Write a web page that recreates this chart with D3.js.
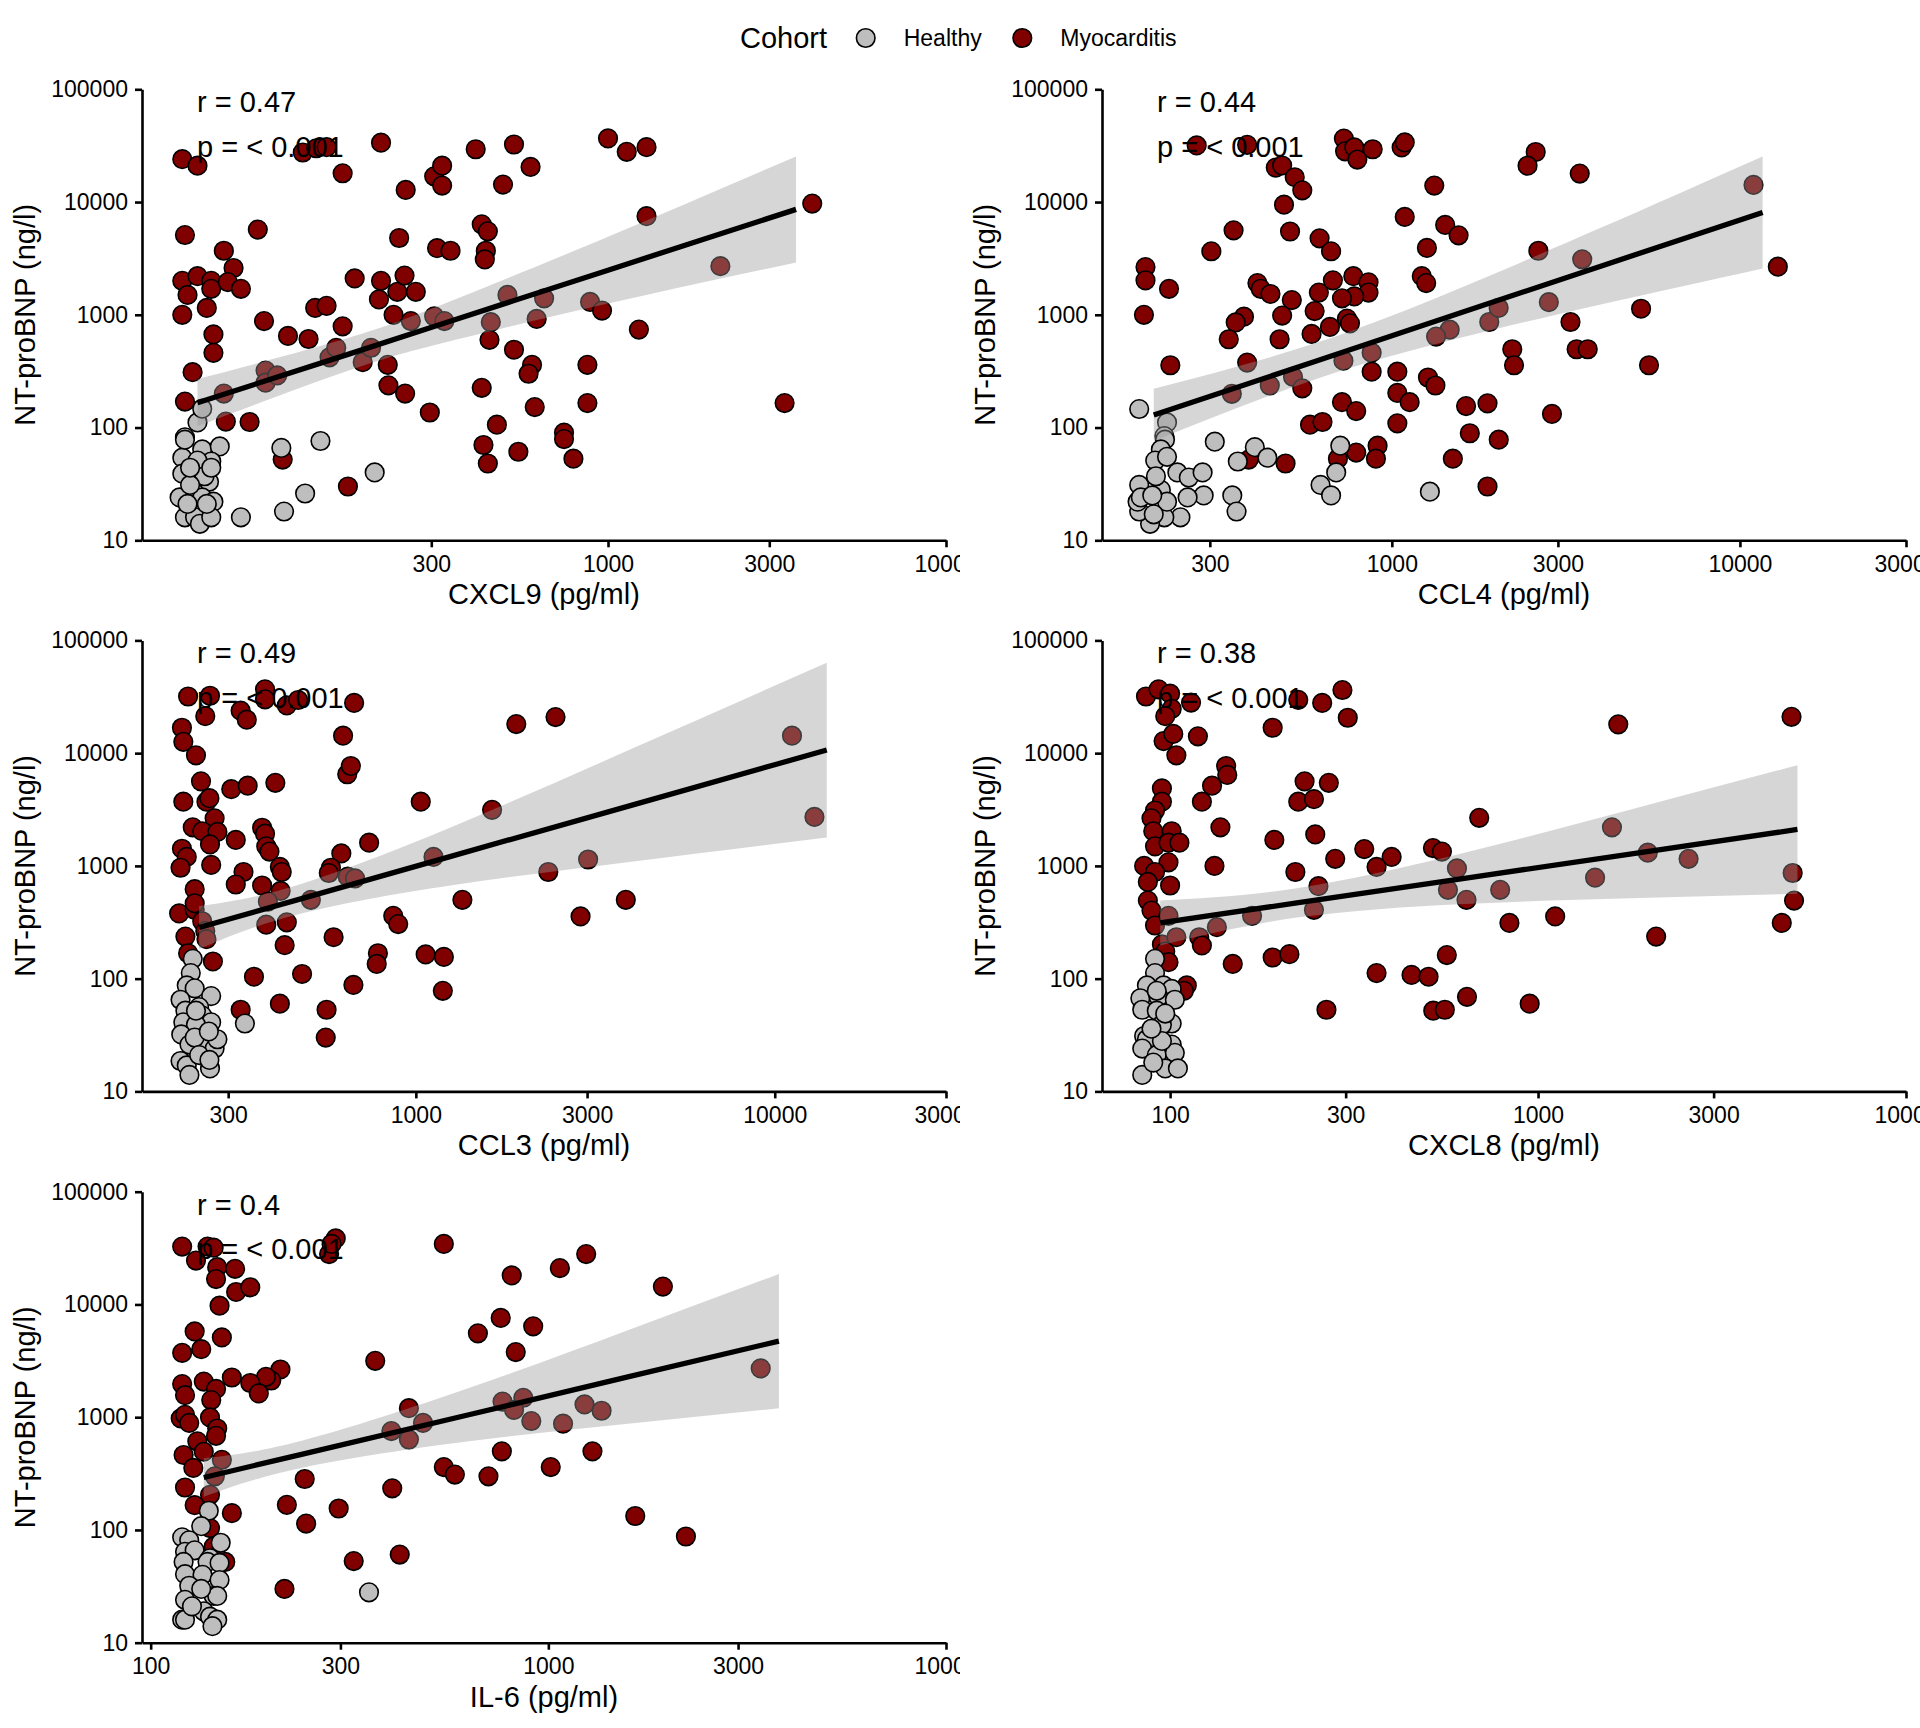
<!DOCTYPE html>
<html>
<head>
<meta charset="utf-8">
<script src="https://cdn.jsdelivr.net/npm/d3@7"></script>
<style>
  body { margin: 0; background: #ffffff; }
  text { font-family: "Liberation Sans", Arial, Helvetica, sans-serif; }
</style>
</head>
<body>
<div id="chart"></div>
<script>

//Cohort labels
let cohorts = ["Healthy", "Myocarditis"];

//Shared y axis (NT-proBNP, ng/l)
let yDomain = [10, 100000];
let yTicks = [10, 100, 1000, 10000, 100000];

//CXCL9 panel: [x pg/ml, NT-proBNP ng/l]
let cxcl9Myo = [[55,24000],[61,21000],[56,5100],[55,2000],[61,2200],[57,1500],[55,1000],[65,1150],[67,2000],[67,1700],[73,3700],[78,2600],[75,1950],[82,1700],[68,670],[68,460],[59,310],[56,170],[73,200],[74,113],[87,112],[92,5700],[96,880],[113,650],[130,610],[97,320],[97,250],[105,290],[109,52],[125,27500],[137,30000],[147,30700],[164,18000],[213,33600],[136,1150],[147,1200],[164,790],[150,420],[157,510],[170,30],[178,2100],[188,380],[199,510],[213,2000],[210,1370],[223,360],[224,237],[238,1600],[250,2230],[270,1600],[232,1000],[251,200],[252,12800],[241,4800],[261,880],[297,136],[306,16900],[323,21000],[323,14000],[312,3900],[306,970],[328,880],[342,3700],[406,29400],[527,32400],[489,14300],[590,20500],[1000,36700],[1136,27900],[1300,30700],[1300,7500],[4020,9700],[423,6350],[441,5500],[435,3700],[432,3100],[504,1500],[647,1400],[615,920],[450,860],[885,1300],[960,1090],[1234,740],[2150,2700],[446,600],[527,490],[596,360],[582,300],[869,360],[423,225],[607,152],[869,165],[3330,165],[469,106],[741,90],[741,79],[428,70],[441,48],[543,61],[790,53]];
let cxcl9Healthy = [[56,82],[55,54],[63,64],[71,68],[67,50],[55,39],[63,41],[66,33],[54,24],[60,24],[63,24],[68,22],[56,16],[60,16],[62,14],[67,16],[82,16],[110,18],[127,26],[204,40],[141,76],[108,66],[61,111],[63,147],[56,78],[61,51],[64,37],[58,31],[65,21],[57,21],[58,44],[67,44]];
//fit: [x, lower, fit, upper]
let cxcl9Fit = [[61,103,166,269],[171,321,448,625],[343,586,881,1324],[1000,1259,2489,4920],[3600,2917,8610,25400]];
let cxcl9Domain = [41.8, 10000];
let cxcl9Ticks = [300, 1000, 3000, 10000];

//CCL4 panel
let ccl4Myo = [[275,31800],[384,32200],[728,36600],[734,28200],[780,30500],[796,23800],[881,29400],[1067,30500],[1089,33800],[464,20200],[484,21100],[526,16600],[553,12700],[490,9470],[1324,14000],[1089,7380],[2590,27800],[2454,21000],[3466,17900],[1423,6270],[1555,5070],[1261,3920],[2636,3700],[351,5610],[303,3660],[510,5480],[620,4770],[669,3660],[196,2650],[196,2020],[194,1000],[229,1700],[231,357],[411,1910],[420,1700],[448,1530],[516,1350],[617,1574],[677,2020],[775,2200],[857,1940],[857,1574],[780,1455],[719,1400],[1219,2200],[1255,1910],[600,1080],[484,984],[376,962],[356,855],[340,607],[476,607],[588,676],[664,780],[743,925],[758,841],[1466,738],[1340,641],[1905,863],[2027,1151],[2825,1294],[3523,3104],[10940,14200],[12850,2670],[5200,1132],[3260,863],[2218,495],[2244,357],[3395,495],[3654,495],[5480,357],[384,377],[347,199],[446,236],[520,282],[553,223],[726,392],[875,461],[875,313],[1037,313],[1270,278],[1334,236],[1037,203],[1125,168],[719,168],[790,140],[1634,155],[1883,164],[2884,132],[582,106],[632,112],[1037,109],[1675,89],[2028,78],[910,69],[790,60],[900,53],[700,53],[1497,53],[495,48],[388,52],[1883,30]];
let ccl4Healthy = [[188,146],[226,111],[222,84],[223,78],[217,64],[209,51],[226,55],[310,75],[361,50],[404,67],[439,54],[711,69],[692,40],[624,31],[669,25],[1286,27],[348,25],[358,18],[242,40],[261,36],[286,40],[288,25],[259,24],[247,16],[222,16],[202,14],[188,18],[186,22],[188,31],[190,24],[217,28],[226,22],[205,25],[210,37],[207,17]];
let ccl4Fit = [[207,76,129,221],[601,267,386,558],[1585,628,1047,1746],[3981,1233,2698,5902],[11620,2576,8090,25410]];
let ccl4Domain = [147, 30000];
let ccl4Ticks = [300, 1000, 3000, 10000, 30000];

//CCL3 panel
let ccl3Myo = [[232,31800],[267,32300],[259,21300],[223,16800],[225,12600],[244,9570],[325,23800],[338,19800],[380,36800],[380,30000],[437,26500],[470,29600],[673,27900],[627,14300],[644,6500],[659,7690],[1905,18100],[2450,20900],[252,5620],[225,3710],[261,3710],[266,3990],[306,4790],[340,5150],[406,5460],[275,2640],[239,2200],[254,2030],[280,2000],[373,2180],[380,1930],[315,1700],[267,1550],[223,1420],[383,1490],[391,1340],[230,1200],[221,963],[269,1020],[418,980],[423,883],[331,883],[315,684],[373,670],[242,622],[219,379],[242,408],[228,236],[232,168],[272,142],[431,198],[437,316],[383,301],[354,104],[482,110],[325,53],[418,60],[564,53],[561,30],[590,233],[670,88],[784,168],[778,135],[865,361],[893,305],[1065,164],[1197,156],[1189,78],[1348,500],[2877,356],[3846,500],[741,1607],[1032,3710],[620,1291],[580,963],[572,865],[646,803],[677,775],[510,500],[420,600],[387,483],[1120,1200],[1631,3140],[2339,883],[3020,1140],[11170,14300],[12900,2720],[242,466],[254,323],[259,264],[261,224]];
let ccl3Healthy = [[239,150],[236,112],[230,87],[242,82],[269,70],[221,65],[228,52],[249,56],[254,47],[269,41],[225,41],[244,39],[334,40],[222,32],[234,26],[257,28],[275,24],[242,30],[221,18.6],[230,17],[267,16],[234,14],[249,21],[266,19],[280,29],[244,52],[265,34]];
let ccl3Fit = [[249,183,284,440],[462,367,495,668],[1259,673,1222,2218],[3981,1091,3443,10860],[13960,1790,10660,63500]];
let ccl3Domain = [172.6, 30000];
let ccl3Ticks = [300, 1000, 3000, 10000, 30000];

//CXCL8 panel
let cxcl8Myo = [[86,31800],[93,36800],[100,33700],[101,24700],[97,21300],[114,28100],[96,12800],[102,14800],[119,14100],[104,9570],[142,7690],[143,6410],[130,5150],[122,3710],[95,4870],[95,3710],[91,3100],[89,2640],[90,2030],[101,2030],[91,1490],[99,1607],[106,1607],[137,2200],[85,1000],[99,1076],[91,883],[87,721],[100,670],[132,1000],[87,493],[89,402],[91,296],[95,201],[97,174],[99,140],[104,233],[120,233],[122,197],[148,135],[111,87],[109,78],[190,16800],[192,1700],[190,154],[211,165],[223,29700],[259,27900],[294,36300],[304,20600],[232,5620],[270,5460],[223,3710],[246,3910],[248,1900],[219,883],[281,1156],[337,1410],[400,1200],[364,980],[266,53],[364,112],[453,108],[504,104],[519,52],[558,53],[641,69],[949,60],[565,162],[518,1440],[692,2670],[836,312],[1113,356],[1652,18000],[2094,236],[4885,21000],[4596,312],[4963,493],[548,1340],[602,950],[569,614],[639,500],[789,614],[253,661],[246,408],[167,361],[134,286],[1429,787],[1588,2200],[1987,1310],[2565,1156],[4920,865],[99,361]];
let cxcl8Healthy = [[91,150],[91,112],[86.5,87],[96,87],[101,81],[83,67],[93,69],[103,65],[84,53],[92,52],[101,40],[95,39],[85,31],[86.5,29],[84,24],[101,26],[92,21],[103,22],[97,16],[105,16],[84,14],[90,18],[95,28],[89,36],[97,49],[92,78]];
let cxcl8Fit = [[94,197,312,494],[221,348,470,634],[631,460,776,1309],[1778,516,1274,3141],[5070,566,2105,7816]];
let cxcl8Domain = [65.3, 10000];
let cxcl8Ticks = [100, 300, 1000, 3000, 10000];

//IL-6 panel
let il6Myo = [[120,32600],[139,32600],[144,31900],[130,24500],[147,21400],[163,20700],[146,16800],[164,12900],[178,14200],[149,9750],[281,28000],[292,38500],[285,34400],[546,34400],[1245,28000],[1069,21000],[809,18100],[1941,14400],[129,5760],[134,4010],[120,3720],[151,5100],[759,7600],[916,6400],[665,5550],[828,3780],[367,3160],[212,2650],[201,2115],[195,2280],[178,2010],[187,1625],[160,2250],[120,1965],[136,2070],[146,1780],[122,1567],[142,1420],[141,995],[119,975],[122,1049],[125,889],[147,794],[146,684],[131,611],[121,462],[136,494],[128,355],[122,238],[129,166],[160,141],[220,167],[244,283],[246,114],[297,155],[324,53],[423,60.5],[217,30],[405,234],[546,361],[582,310],[707,299],[764,498],[1014,361],[1291,498],[1654,133],[2218,87.5],[141,104],[144,71],[154,52],[446,1202],[403,753],[446,634],[484,889],[767,1377],[865,1487],[820,1160],[906,925],[1089,877],[1233,1297],[1361,1141],[3420,2710],[151,419],[141,205],[145,299]];
let il6Healthy = [[140,148],[134,108],[120,86],[125,81],[150,77],[122,64],[129,66],[141,56],[139,52],[149,51],[121,52],[122,40.5],[135,40],[149,36],[125,32],[144,26],[147,26],[122,24],[354,28],[136,19],[120,16],[122,16],[141,17],[147,16],[143,14],[127,21],[134,30]];
let il6Fit = [[136,197,292,432],[241,357,471,621],[631,611,1052,1811],[1585,875,2275,5916],[3800,1202,4730,18620]];
let il6Domain = [95.1, 10000];
let il6Ticks = [100, 300, 1000, 3000, 10000];

//Panel titles and correlation labels
let xTitles = ["CXCL9 (pg/ml)", "CCL4 (pg/ml)", "CCL3 (pg/ml)", "CXCL8 (pg/ml)", "IL-6 (pg/ml)"];
let rLabels = ["r = 0.47", "r = 0.44", "r = 0.49", "r = 0.38", "r = 0.4"];
let pLabels = ["p = < 0.001", "p = < 0.001", "p = < 0.001", "p = < 0.001", "p = < 0.001"];

//Width and Height
let width = 1920;
let height = 1728;

//Colors
let colors = ["#bebebe", "#800000"];

//Layout
let colLeft = [142, 1102];
let rowTop = [89.3, 640.4, 1191.7];
let plotW = 804;
let plotH = 451;
let pointR = 9.3;

let panels = [
  {myo: cxcl9Myo, healthy: cxcl9Healthy, fit: cxcl9Fit, domain: cxcl9Domain, ticks: cxcl9Ticks, col: 0, row: 0},
  {myo: ccl4Myo, healthy: ccl4Healthy, fit: ccl4Fit, domain: ccl4Domain, ticks: ccl4Ticks, col: 1, row: 0},
  {myo: ccl3Myo, healthy: ccl3Healthy, fit: ccl3Fit, domain: ccl3Domain, ticks: ccl3Ticks, col: 0, row: 1},
  {myo: cxcl8Myo, healthy: cxcl8Healthy, fit: cxcl8Fit, domain: cxcl8Domain, ticks: cxcl8Ticks, col: 1, row: 1},
  {myo: il6Myo, healthy: il6Healthy, fit: il6Fit, domain: il6Domain, ticks: il6Ticks, col: 0, row: 2}
];

//Create svg
let chart = d3.select("#chart")
  .append("svg")
  .attr("width", width)
  .attr("height", height);

chart.append("rect")
  .attr("width", width)
  .attr("height", height)
  .attr("fill", "white");

//Clip each column cell like the facet grid does
let defs = chart.append("defs");
[0, 1].forEach(function(c) {
  defs.append("clipPath")
    .attr("id", "cell" + c)
    .append("rect")
    .attr("x", c * 960)
    .attr("y", 0)
    .attr("width", 960)
    .attr("height", height);
});

panels.forEach(function(p, i) {

  let left = colLeft[p.col];
  let top = rowTop[p.row];

  let x = d3.scaleLog().domain(p.domain).range([left, left + plotW]);
  let y = d3.scaleLog().domain(yDomain).range([top + plotH, top]);

  let g = chart.append("g")
    .attr("class", "panel p" + i)
    .attr("clip-path", "url(#cell" + p.col + ")");

  //Points: Myocarditis first, Healthy on top
  g.append("g")
    .selectAll("circle")
    .data(p.myo)
    .enter()
    .append("circle")
    .attr("cx", d => x(d[0]))
    .attr("cy", d => y(d[1]))
    .attr("r", pointR)
    .attr("fill", colors[1])
    .attr("stroke", "black")
    .attr("stroke-width", 1.6);

  g.append("g")
    .selectAll("circle")
    .data(p.healthy)
    .enter()
    .append("circle")
    .attr("cx", d => x(d[0]))
    .attr("cy", d => y(d[1]))
    .attr("r", pointR)
    .attr("fill", colors[0])
    .attr("stroke", "black")
    .attr("stroke-width", 1.6);

  //Confidence ribbon
  let area = d3.area()
    .x(d => x(d[0]))
    .y0(d => y(d[1]))
    .y1(d => y(d[3]))
    .curve(d3.curveNatural);

  g.append("path")
    .datum(p.fit)
    .attr("d", area)
    .attr("fill", "#999999")
    .attr("fill-opacity", 0.4)
    .attr("stroke", "none");

  //Regression line
  let line = d3.line()
    .x(d => x(d[0]))
    .y(d => y(d[2]));

  g.append("path")
    .datum(p.fit)
    .attr("d", line)
    .attr("fill", "none")
    .attr("stroke", "black")
    .attr("stroke-width", 5.3);

  //Axes
  let xAxis = g.append("g")
    .attr("transform", "translate(0," + (top + plotH) + ")")
    .call(d3.axisBottom(x)
      .tickValues(p.ticks)
      .tickFormat(d3.format("d"))
      .tickSize(7)
      .tickSizeOuter(0)
      .tickPadding(8));

  let yAxis = g.append("g")
    .attr("transform", "translate(" + left + ",0)")
    .call(d3.axisLeft(y)
      .tickValues(yTicks)
      .tickFormat(d3.format("d"))
      .tickSize(7)
      .tickSizeOuter(0)
      .tickPadding(7));

  [xAxis, yAxis].forEach(function(a) {
    a.select(".domain").attr("stroke", "black").attr("stroke-width", 2.6);
    a.selectAll(".tick line").attr("stroke", "black").attr("stroke-width", 2.6);
    a.selectAll(".tick text")
      .attr("fill", "black")
      .style("font-size", "23px")
      .style("font-family", "'Liberation Sans', Arial, sans-serif");
  });

  //Axis titles
  g.append("text")
    .attr("x", left + plotW / 2)
    .attr("y", top + plotH + 64)
    .attr("text-anchor", "middle")
    .style("font-size", "29px")
    .text(xTitles[i]);

  g.append("text")
    .attr("transform", "translate(" + (p.col * 960 + 35) + "," + (top + plotH / 2) + ") rotate(-90)")
    .attr("text-anchor", "middle")
    .style("font-size", "29px")
    .text("NT-proBNP (ng/l)");

  //Correlation labels
  g.append("text")
    .attr("x", left + 55)
    .attr("y", top + 23)
    .style("font-size", "29px")
    .text(rLabels[i]);

  g.append("text")
    .attr("x", left + 55)
    .attr("y", top + 67.4)
    .style("font-size", "29px")
    .text(pLabels[i]);
});

//Legend
let legend = chart.append("g").attr("class", "legend");

legend.append("text")
  .attr("x", 740)
  .attr("y", 48.4)
  .style("font-size", "29px")
  .text("Cohort");

let legendX = [865.7, 1022.3];
cohorts.forEach(function(c, i) {
  legend.append("circle")
    .attr("cx", legendX[i])
    .attr("cy", 38)
    .attr("r", pointR)
    .attr("fill", colors[i])
    .attr("stroke", "black")
    .attr("stroke-width", 1.6);

  legend.append("text")
    .attr("x", legendX[i] + 38)
    .attr("y", 46.2)
    .style("font-size", "23px")
    .text(c);
});

</script>
</body>
</html>
